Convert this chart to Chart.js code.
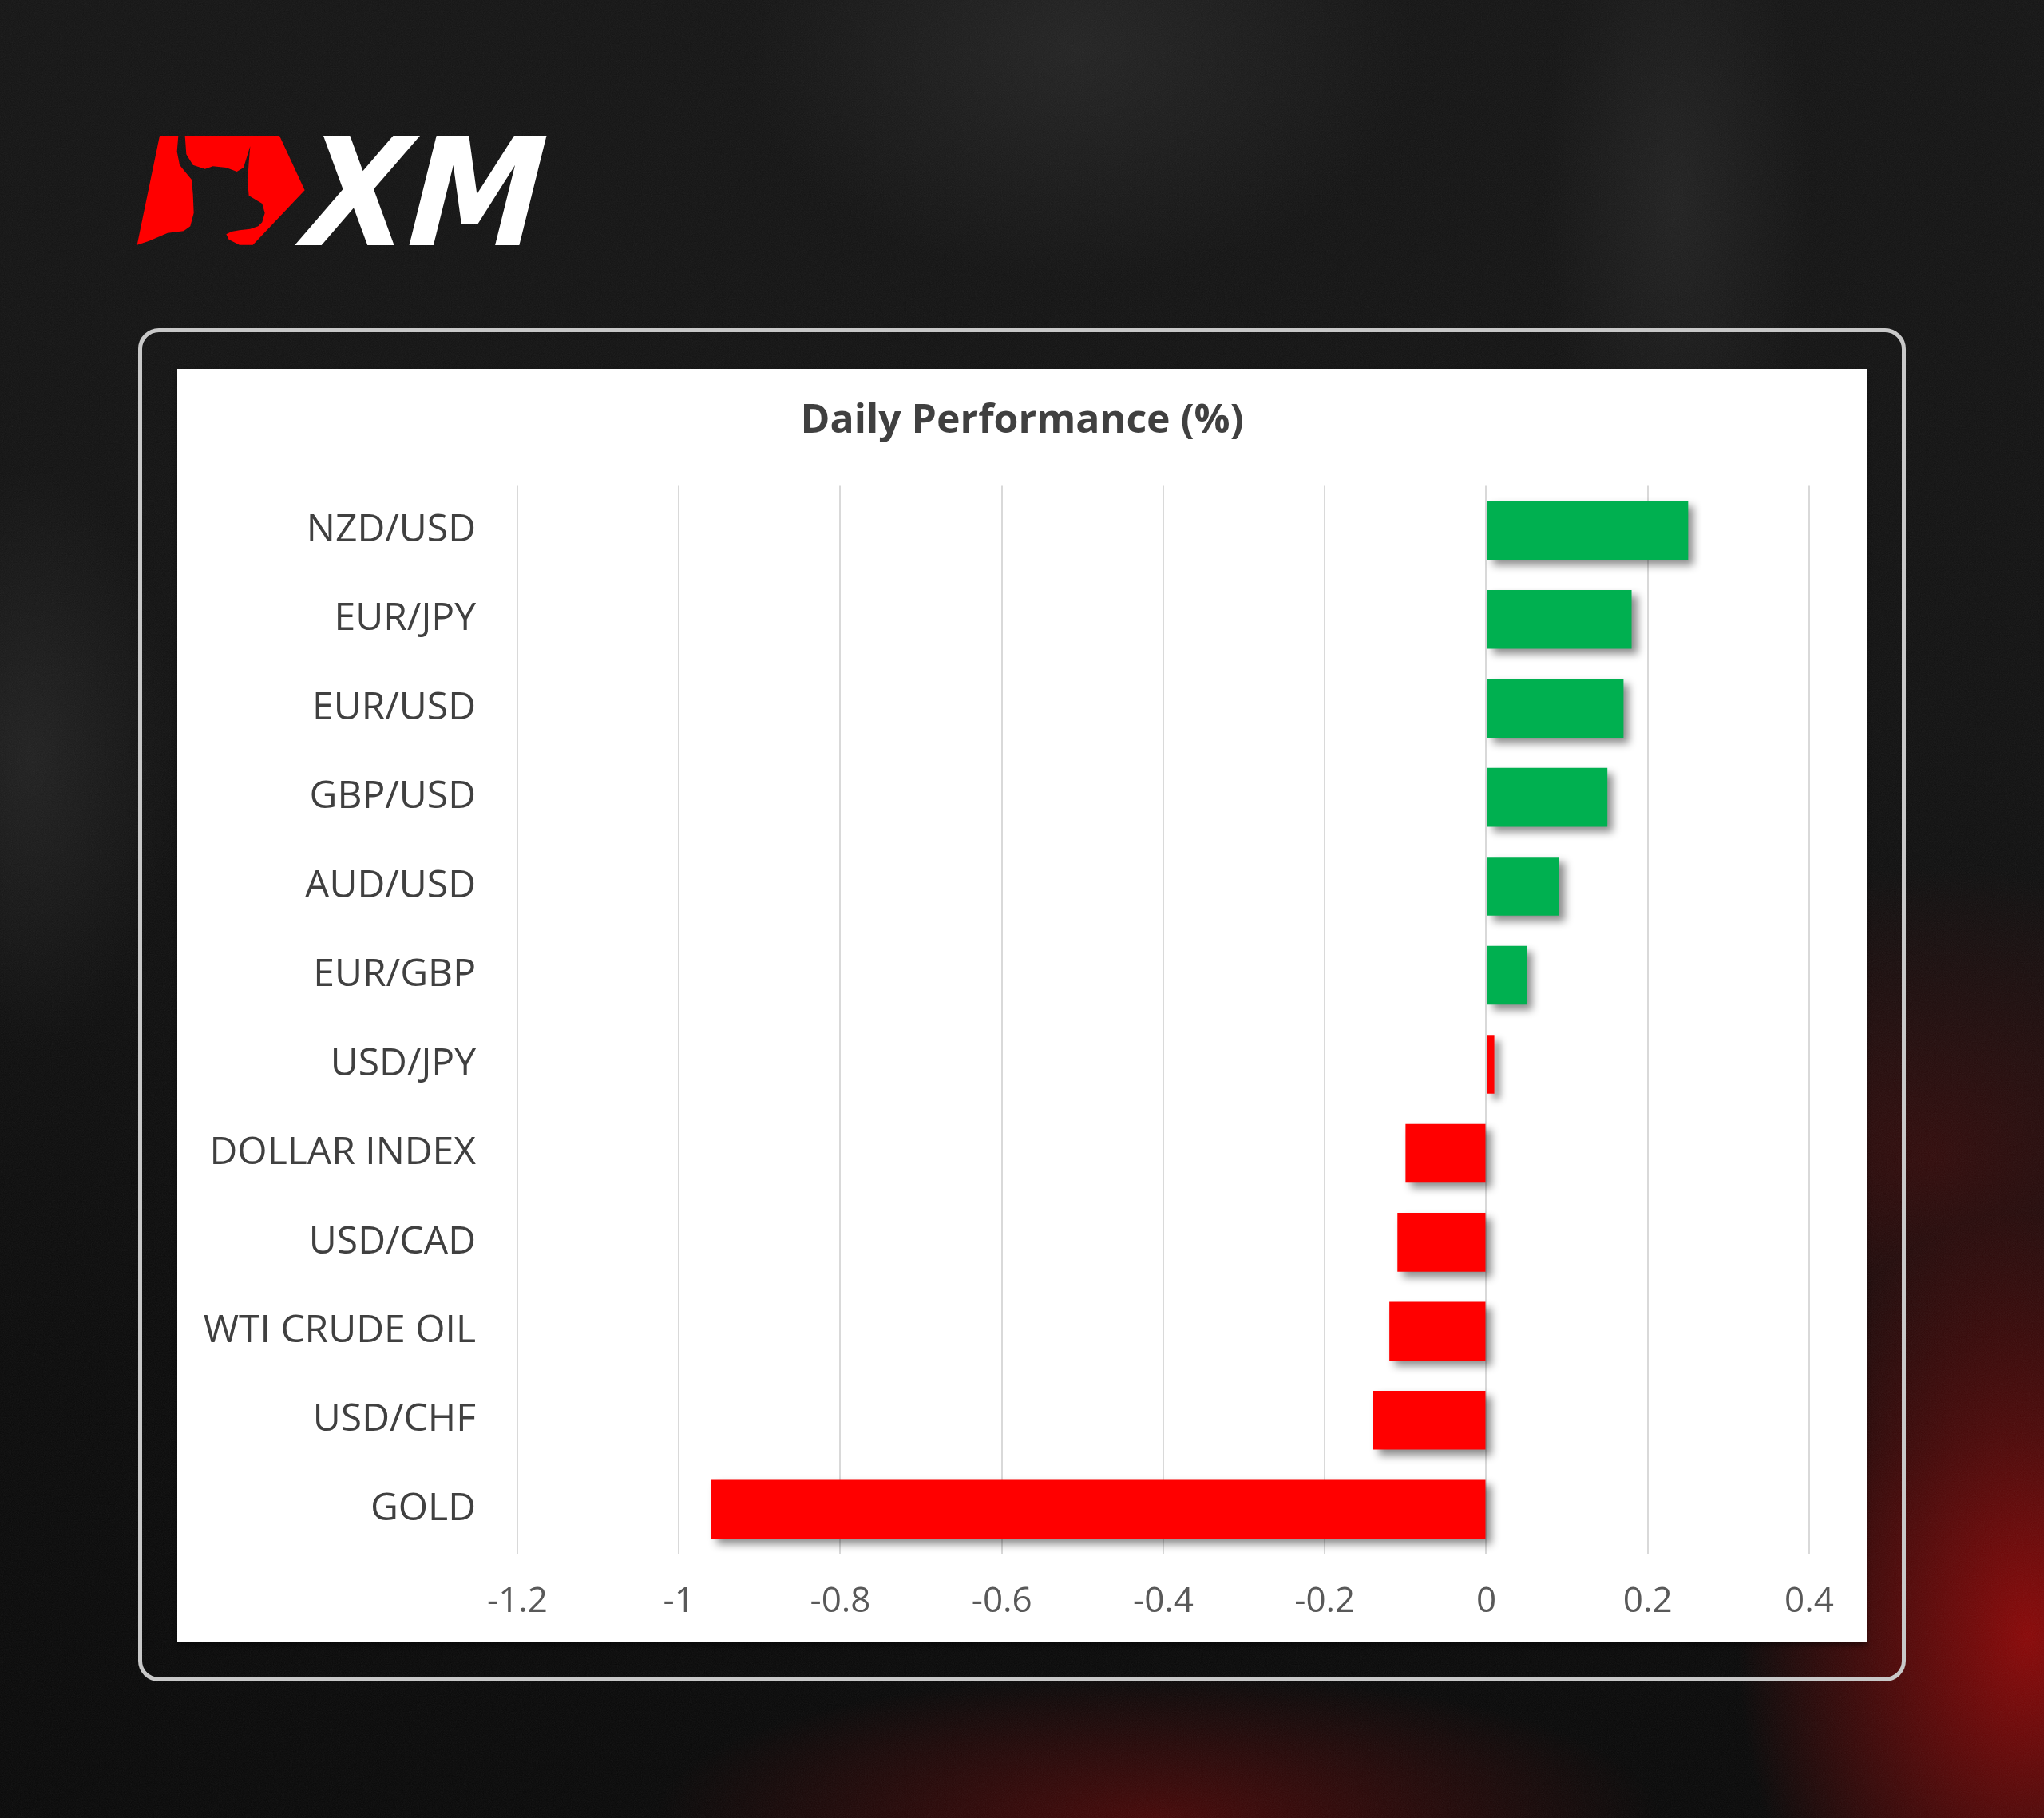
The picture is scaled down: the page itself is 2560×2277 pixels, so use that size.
<!DOCTYPE html>
<html>
<head>
<meta charset="utf-8">
<script src="https://cdn.jsdelivr.net/npm/chart.js@4/dist/chart.umd.min.js"></script>
<style>
    html, body { margin: 0; padding: 0; }
    body {
        width: 2560px;
        height: 2277px;
        position: relative;
        overflow: hidden;
        background:
            radial-gradient(ellipse 520px 760px at 2540px 2050px, rgba(160, 8, 8, 0.85), rgba(160, 8, 8, 0) 70%),
            radial-gradient(ellipse 900px 260px at 1450px 2277px, rgba(110, 8, 8, 0.6), rgba(110, 8, 8, 0) 70%),
            radial-gradient(ellipse 700px 520px at 2420px 1450px, rgba(95, 10, 10, 0.45), rgba(95, 10, 10, 0) 70%),
            radial-gradient(ellipse 240px 600px at 2100px 250px, rgba(50, 50, 50, 0.45), rgba(50, 50, 50, 0) 70%),
            radial-gradient(ellipse 600px 420px at 1350px 60px, rgba(50, 50, 50, 0.5), rgba(50, 50, 50, 0) 70%),
            radial-gradient(ellipse 260px 520px at 40px 950px, rgba(48, 48, 48, 0.5), rgba(48, 48, 48, 0) 70%),
            linear-gradient(180deg, #151515 0%, #121212 40%, #0b0b0b 75%, #090909 100%);
    }
    #grain { position: absolute; left: 0; top: 0; opacity: 0.07; }
    #logo { position: absolute; left: 0; top: 0; }
    #frame {
        position: absolute;
        left: 173px;
        top: 411px;
        width: 2204px;
        height: 1685px;
        border: 5px solid #c8c8c8;
        border-radius: 26px;
    }
    #panel {
        position: absolute;
        left: 222px;
        top: 462px;
        width: 2116px;
        height: 1595px;
        background: #ffffff;
        box-shadow: 0 4px 6px rgba(0, 0, 0, 0.4);
    }
</style>
</head>
<body>
<svg id="grain" width="2560" height="2277" xmlns="http://www.w3.org/2000/svg">
    <filter id="noise">
        <feTurbulence type="fractalNoise" baseFrequency="0.9" numOctaves="2" seed="3"/>
        <feColorMatrix type="saturate" values="0"/>
    </filter>
    <rect width="2560" height="2277" filter="url(#noise)"/>
</svg>
<svg id="logo" width="720" height="340" xmlns="http://www.w3.org/2000/svg">
    <g transform="translate(160,160) scale(0.3333)" fill="#ff0000">
        <polygon points="120,30 190,30 185,90 195,140 215,165 240,195 245,250 248,320 235,370 210,388 150,395 80,425 35,440"/>
        <polygon points="215,30 570,30 665,235 470,440 420,440 380,420 370,400 390,390 420,385 460,380 490,370 505,355 515,320 505,285 480,270 455,255 450,200 455,130 460,70 435,150 410,165 370,150 320,145 290,155 245,140 220,100"/>
    </g>
    <text x="0" y="0" transform="translate(366,307) skewX(-14)" font-family="DejaVu Sans" font-weight="bold" font-size="188" fill="#ffffff" textLength="300" lengthAdjust="spacingAndGlyphs">XM</text>
</svg>
<div id="frame"></div>
<div id="panel"><canvas id="perfChart" width="2116" height="1595"></canvas></div>
<script>
const categories = ["NZD/USD", "EUR/JPY", "EUR/USD", "GBP/USD", "AUD/USD", "EUR/GBP", "USD/JPY",
    "DOLLAR INDEX", "USD/CAD", "WTI CRUDE OIL", "USD/CHF", "GOLD"];
const performance = [0.25, 0.18, 0.17, 0.15, 0.09, 0.05, 0.01, -0.10, -0.11, -0.12, -0.14, -0.96];
const tickLabels = ["-1.2", "-1", "-0.8", "-0.6", "-0.4", "-0.2", "0", "0.2", "0.4"];

// green for the top six, red from USD/JPY down (as in the source picture)
const barColors = ["#00b050", "#00b050", "#00b050", "#00b050", "#00b050", "#00b050",
    "#ff0000", "#ff0000", "#ff0000", "#ff0000", "#ff0000", "#ff0000"];

const barShadow = {
    id: "barShadow",
    beforeDatasetsDraw(chart) {
        const ctx = chart.ctx;
        ctx.save();
        ctx.shadowColor = "rgba(0, 0, 0, 0.45)";
        ctx.shadowBlur = 10;
        ctx.shadowOffsetX = 7;
        ctx.shadowOffsetY = 7;
    },
    afterDatasetsDraw(chart) {
        chart.ctx.restore();
    }
};

new Chart(document.getElementById("perfChart"), {
    type: "bar",
    data: {
        labels: categories,
        datasets: [{
            data: performance,
            backgroundColor: barColors,
            borderWidth: 0,
            barPercentage: 0.66,
            categoryPercentage: 1
        }]
    },
    options: {
        indexAxis: "y",
        responsive: false,
        animation: false,
        layout: { padding: 0 },
        plugins: {
            legend: { display: false },
            tooltip: { enabled: false },
            title: {
                display: true,
                text: "Daily Performance (%)",
                color: "#404040",
                font: { family: "Open Sans", size: 50, weight: "bold", lineHeight: 1.25 },
                padding: { top: 34, bottom: 50 }
            }
        },
        scales: {
            x: {
                min: -1.2,
                max: 0.4,
                ticks: {
                    stepSize: 0.2,
                    padding: 34,
                    color: "#595959",
                    font: { family: "Open Sans", size: 44 },
                    callback: (v, i) => tickLabels[i]
                },
                grid: { color: "#d9d9d9", lineWidth: 2, drawTicks: false },
                border: { display: false },
                afterFit: (scale) => { scale.height = 111; }
            },
            y: {
                ticks: {
                    padding: 52,
                    color: "#404040",
                    font: { family: "Open Sans", size: 48 }
                },
                grid: { display: false, drawTicks: false },
                border: { display: false },
                afterFit: (scale) => { scale.width = 426; }
            },
            // empty right-hand margin so the plot ends where the reference does
            yRight: {
                type: "category",
                position: "right",
                ticks: { display: false },
                grid: { display: false, drawTicks: false },
                border: { display: false },
                afterFit: (scale) => { scale.width = 72; }
            }
        }
    },
    plugins: [barShadow]
});
</script>
</body>
</html>
